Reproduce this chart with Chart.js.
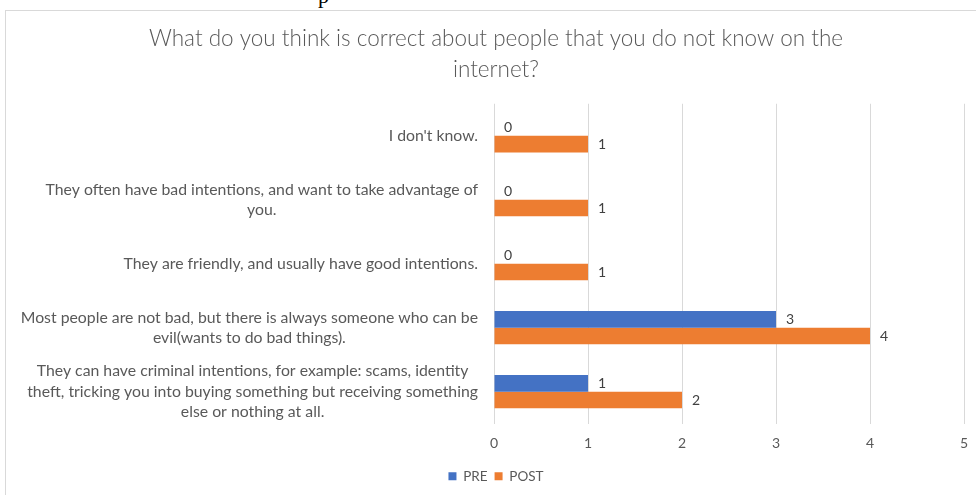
<!DOCTYPE html>
<html>
<head>
<meta charset="utf-8">
<script src="https://cdn.jsdelivr.net/npm/chart.js@4.4.1/dist/chart.umd.min.js"></script>
<style>
  html, body { margin: 0; padding: 0; background: #fff; overflow: hidden; }
  #wrap { position: relative; width: 976px; height: 495px; }
  #frame { position: absolute; left: 5px; top: 10px; width: 1000px; height: 500px; border: 1px solid #d9d9d9; pointer-events: none; }
  #frag { position: absolute; left: 318px; top: -17px; font: 22px "Liberation Serif"; color: #000; }
  canvas { position: absolute; left: 0; top: 0; }
</style>
</head>
<body>
<div id="wrap">
  <span id="frag">p</span>
  <div id="frame"></div>
  <canvas id="myChart" width="976" height="495"></canvas>
</div>
<script>
// answers, top to bottom, already split into lines
const categories = [
  ["I don't know."],
  ["They often have bad intentions, and want to take advantage of", "you."],
  ["They are friendly, and usually have good intentions."],
  ["Most people are not bad, but there is always someone who can be", "evil(wants to do bad things)."],
  ["They can have criminal intentions, for example: scams, identity", "theft, tricking you into buying something but receiving something", "else or nothing at all."]
];
const preValues = [0, 0, 0, 3, 1];
const postValues = [1, 1, 1, 4, 2];
const xTicks = [0, 1, 2, 3, 4, 5];

const labelFont = '15.8px Lato';
const textColor = '#595959';

// category text: block right-aligned to the axis, lines centred inside the block
const categoryLabels = {
  id: 'categoryLabels',
  afterDraw(chart) {
    const ctx = chart.ctx;
    const yScale = chart.scales.y;
    ctx.save();
    ctx.font = labelFont;
    ctx.fillStyle = textColor;
    ctx.textAlign = 'center';
    ctx.textBaseline = 'middle';
    categories.forEach(function(lines, i) {
      const cy = yScale.getPixelForValue(i);
      let widest = 0;
      lines.forEach(l => { widest = Math.max(widest, ctx.measureText(l).width); });
      const cx = chart.chartArea.left - 16 - widest / 2;
      const lh = 20.5;
      const top = cy - (lines.length - 1) * lh / 2;
      lines.forEach((l, k) => ctx.fillText(l, cx, top + k * lh));
    });
    ctx.restore();
  }
};

// value printed just past the end of each bar
const barValues = {
  id: 'barValues',
  afterDatasetsDraw(chart) {
    const ctx = chart.ctx;
    ctx.save();
    ctx.font = '14px Lato';
    ctx.fillStyle = '#404040';
    ctx.textAlign = 'left';
    ctx.textBaseline = 'middle';
    chart.data.datasets.forEach(function(ds, d) {
      chart.getDatasetMeta(d).data.forEach(function(bar, i) {
        ctx.fillText(String(ds.data[i]), bar.x + 10, bar.y);
      });
    });
    ctx.restore();
  }
};

const ctx = document.getElementById('myChart').getContext('2d');
const myChart = new Chart(ctx, {
  type: 'bar',
  data: {
    labels: categories.map(c => c.join(' ')),
    datasets: [{
      label: 'PRE',
      data: preValues,
      backgroundColor: '#4472C4',
      categoryPercentage: 0.52,
      barPercentage: 1
    }, {
      label: 'POST',
      data: postValues,
      backgroundColor: '#ED7D31',
      categoryPercentage: 0.52,
      barPercentage: 1
    }]
  },
  options: {
    indexAxis: 'y',
    responsive: false,
    animation: false,
    layout: { padding: { left: 28, right: 12, top: 24, bottom: 2 } },
    plugins: {
      tooltip: { enabled: false },
      title: {
        display: true,
        text: ['What do you think is correct about people that you do not know on the', 'internet?'],
        color: textColor,
        font: { family: 'Lato', size: 22.5, weight: 300, lineHeight: 1.35 },
        padding: { top: 0, bottom: 19 }
      },
      legend: {
        position: 'bottom',
        labels: {
          color: textColor,
          font: { family: 'Lato', size: 13.5 },
          boxWidth: 8,
          boxHeight: 8,
          padding: 7
        }
      }
    },
    scales: {
      x: {
        min: 0,
        max: 5,
        afterBuildTicks(scale) { scale.ticks = xTicks.map(v => ({ value: v })); },
        afterFit(scale) { scale.paddingRight = 0; scale.paddingLeft = 0; },
        grid: { color: '#d9d9d9', drawTicks: false },
        border: { display: false },
        ticks: { color: textColor, font: { family: 'Lato', size: 14 }, padding: 11 }
      },
      y: {
        grid: { display: false },
        border: { display: false },
        ticks: { display: false },
        afterFit(scale) { scale.width = 466; }
      }
    }
  },
  plugins: [categoryLabels, barValues]
});
</script>
</body>
</html>
